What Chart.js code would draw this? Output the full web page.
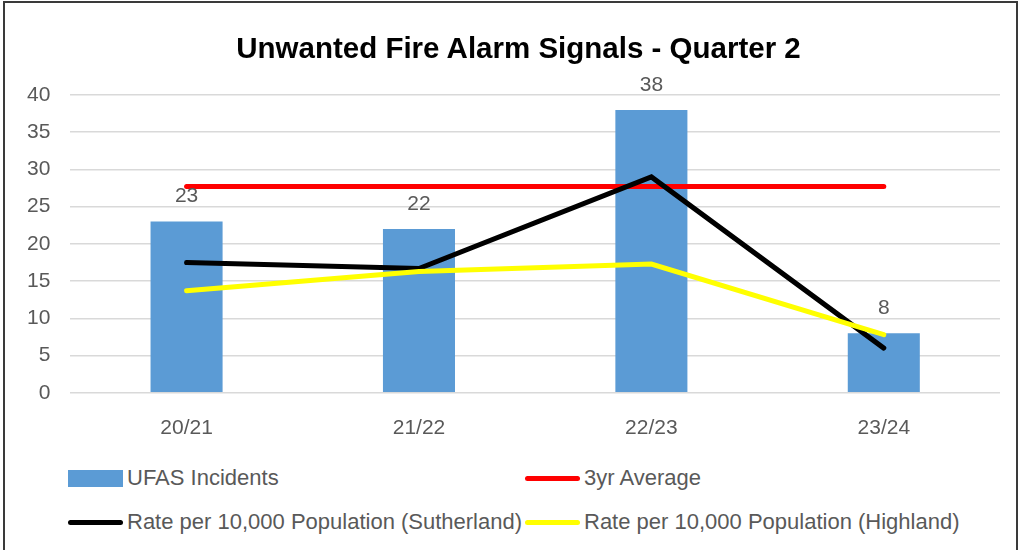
<!DOCTYPE html>
<html>
<head>
<meta charset="utf-8">
<script src="https://cdn.jsdelivr.net/npm/chart.js@4"></script>
<style>
    html, body { margin: 0; padding: 0; background: #fff; }
    #wrap { position: relative; width: 1021px; height: 550px; overflow: hidden; }
    #frame { position: absolute; left: 3px; top: 1px; width: 1015px; height: 560px; border: 2px solid #3a3a3a; box-sizing: border-box; }
    #canvasBox { position: absolute; left: 0; top: 0; width: 1021px; height: 456px; }
    #title { position: absolute; left: 0; top: 30px; width: 1037px; text-align: center; line-height: 35px;
        font-family: 'Liberation Sans', Arial, sans-serif; font-size: 29.5px; font-weight: bold; color: #000; }
    #legend { position: absolute; left: 68px; top: 465px; width: 940px; display: grid; grid-template-columns: 457px 470px; row-gap: 18px;
        font-family: 'Liberation Sans', Arial, sans-serif; font-size: 22px; color: #595959; }
    .item { display: flex; align-items: center; height: 26px; white-space: nowrap; }
    .mark { width: 55px; margin-right: 4px; flex: none; }
</style>
</head>
<body>
<div id="wrap">
    <div id="canvasBox"><canvas id="canvas"></canvas></div>
    <div id="title"></div>
    <div id="legend"></div>
    <div id="frame"></div>
</div>
<script>
// Заголовок графика.
const chartTitle = 'Unwanted Fire Alarm Signals - Quarter 2'

// Категории (кварталы по годам).
const years = ['20/21', '21/22', '22/23', '23/24']

// Количество инцидентов UFAS.
const incidents = [23, 22, 38, 8]

// Среднее за 3 года.
const average = [27.7, 27.7, 27.7, 27.7]

// Показатель на 10 000 населения.
const rateSutherland = [17.5, 16.7, 29.0, 6.0]
const rateHighland = [13.7, 16.3, 17.3, 7.8]

const tickFont = { family: "'Liberation Sans', Arial, sans-serif", size: 21 }
const grey = '#595959'

// Подписи значений над столбцами.
const barLabels = {
    id: 'barLabels',
    afterDatasetsDraw(chart) {
        const ctx = chart.ctx
        const meta = chart.getDatasetMeta(0)
        ctx.save()
        ctx.font = `${tickFont.size}px ${tickFont.family}`
        ctx.fillStyle = grey
        ctx.textAlign = 'center'
        ctx.textBaseline = 'middle'
        meta.data.forEach((bar, i) => {
            ctx.fillText(String(incidents[i]), bar.x, bar.y - 25)
        })
        ctx.restore()
    },
}

const lineStyle = { borderWidth: 5, pointRadius: 0, borderCapStyle: 'round', borderJoinStyle: 'miter', tension: 0, fill: false }

const chart = new Chart(document.querySelector('#canvas'), {
    data: {
        labels: years,
        datasets: [
            { type: 'bar', label: 'UFAS Incidents', data: incidents, backgroundColor: '#5b9bd5', order: 4, barPercentage: 0.62, categoryPercentage: 0.5 },
            { type: 'line', label: '3yr Average', data: average, borderColor: '#ff0000', backgroundColor: '#ff0000', order: 3, ...lineStyle },
            { type: 'line', label: 'Rate per 10,000 Population (Sutherland)', data: rateSutherland, borderColor: '#000000', backgroundColor: '#000000', order: 2, ...lineStyle },
            { type: 'line', label: 'Rate per 10,000 Population (Highland)', data: rateHighland, borderColor: '#ffff00', backgroundColor: '#ffff00', order: 1, ...lineStyle },
        ],
    },
    options: {
        animation: false,
        responsive: true,
        maintainAspectRatio: false,
        layout: { padding: { left: 7, right: 21, top: 95, bottom: 0 } },
        plugins: {
            legend: { display: false },
            tooltip: { enabled: false },
            title: { display: false },
        },
        scales: {
            x: {
                grid: { display: false },
                border: { display: false },
                ticks: { color: grey, font: tickFont, padding: 15 },
            },
            y: {
                min: 0,
                max: 40,
                ticks: { stepSize: 5, color: grey, font: tickFont, padding: 20 },
                grid: { color: '#d9d9d9', lineWidth: 1.5, drawTicks: false },
                border: { display: false },
            },
        },
    },
    plugins: [barLabels],
})

document.querySelector('#title').textContent = chartTitle

// Легенда в две колонки, как в исходнике.
const legend = document.querySelector('#legend')
chart.data.datasets.forEach(ds => {
    const item = document.createElement('div')
    item.className = 'item'
    const mark = document.createElement('span')
    mark.className = 'mark'
    if (ds.type === 'bar') {
        mark.style.height = '17px'
        mark.style.background = ds.backgroundColor
    } else {
        mark.style.height = '5px'
        mark.style.borderRadius = '3px'
        mark.style.background = ds.borderColor
    }
    const text = document.createElement('span')
    text.textContent = ds.label
    item.append(mark, text)
    legend.append(item)
})
</script>
</body>
</html>
